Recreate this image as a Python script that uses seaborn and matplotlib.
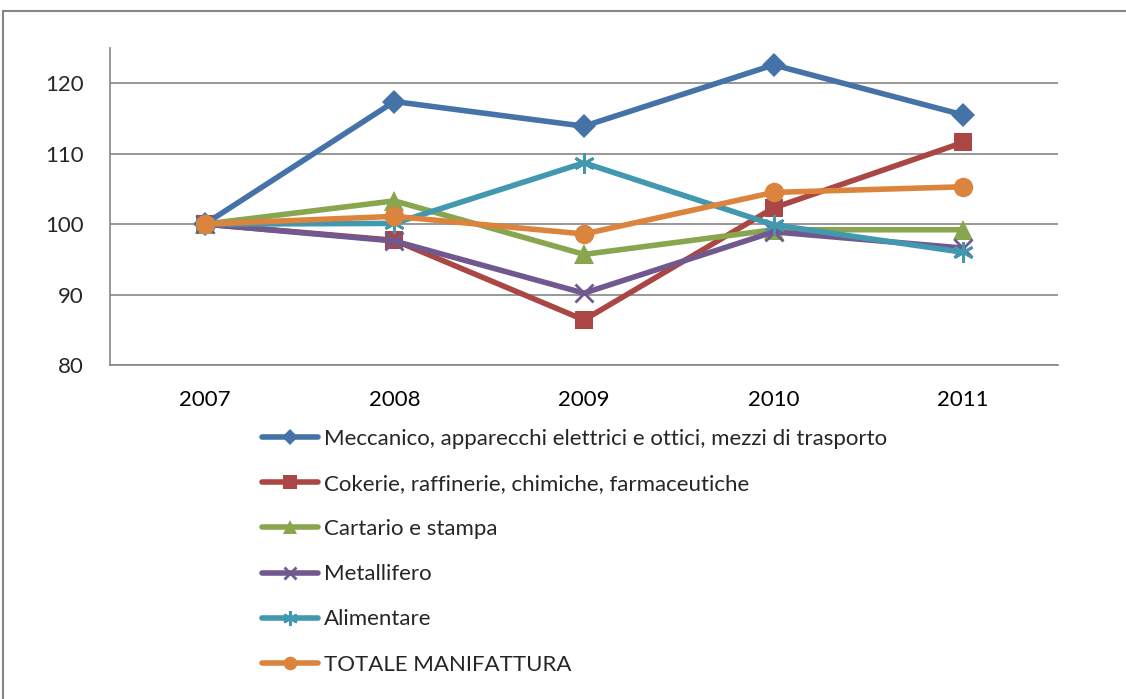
import matplotlib
matplotlib.use("Agg")
import matplotlib.pyplot as plt
import seaborn as sns
import pandas as pd
from matplotlib.patches import Rectangle

years = ["2007", "2008", "2009", "2010", "2011"]
meccanico = [100, 117.4, 113.9, 122.6, 115.5]
cokerie = [100, 97.7, 86.4, 102.3, 111.6]
cartario = [100, 103.3, 95.7, 99.2, 99.2]
metallifero = [100, 97.6, 90.2, 98.9, 96.6]
alimentare = [100, 100.1, 108.7, 99.9, 96.0]
totale = [100, 101.1, 98.6, 104.5, 105.3]

series_names = [
    "Meccanico, apparecchi elettrici e ottici, mezzi di trasporto",
    "Cokerie, raffinerie, chimiche, farmaceutiche",
    "Cartario e stampa",
    "Metallifero",
    "Alimentare",
    "TOTALE MANIFATTURA",
]
series_values = [meccanico, cokerie, cartario, metallifero, alimentare, totale]
colors = ["#4572A7", "#AA4643", "#89A54E", "#71588F", "#4198AF", "#DB843D"]
markers = ["D", "s", "^", "x", (6, 2, 0), "o"]
msizes = [12, 13.5, 14, 13, 15, 14]

sns.set_theme(style="white")
plt.rcParams["font.family"] = ["Lato", "DejaVu Sans"]

fig = plt.figure(figsize=(11.26, 6.99), dpi=100)
W, H = 1126, 699
ax = fig.add_axes([110 / W, 1 - 365 / H, (1058 - 110) / W, (365 - 48) / H])

rows = []
for name, vals in zip(series_names, series_values):
    for i, v in enumerate(vals):
        rows.append({"serie": name, "x": i, "val": v})
df = pd.DataFrame(rows)

for name, col, mk, ms in zip(series_names, colors, markers, msizes):
    sub = df[df["serie"] == name]
    mew = 2.0 if mk in ("x", (6, 2, 0)) else 0
    sns.lineplot(data=sub, x="x", y="val", ax=ax, color=col, linewidth=4.0,
                 marker=mk, markersize=ms, markeredgecolor=col, markerfacecolor=col,
                 markeredgewidth=mew, label=name, legend=False)

ax.set_xlim(-0.5, 4.5)
ax.set_ylim(80, 125)
ax.set_yticks([80, 90, 100, 110, 120])
ax.set_yticklabels(["80", "90", "100", "110", "120"])
ax.set_xticks(range(5))
ax.set_xticklabels(years)
ax.set_xticks([-0.5 + i for i in range(6)], minor=True)
ax.tick_params(axis="x", which="major", length=0, pad=18, labelsize=16, colors="black")
ax.tick_params(axis="x", which="minor", length=7, width=1.2, color="#868686", direction="out")
ax.tick_params(axis="y", which="major", length=6, width=1.2, color="#868686", direction="out",
               pad=13, labelsize=16)
ax.set_xlabel("")
ax.set_ylabel("")
ax.grid(axis="y", color="#868686", linewidth=1.2)
ax.grid(axis="x", visible=False)
for s in ["top", "right"]:
    ax.spines[s].set_visible(False)
for s in ["left", "bottom"]:
    ax.spines[s].set_color("#868686")
    ax.spines[s].set_linewidth(1.2)
ax.set_axisbelow(True)

handles, labels = ax.get_legend_handles_labels()
leg = fig.legend(handles, labels, loc="upper left", bbox_to_anchor=(262 / W, 1 - 429 / H),
                 frameon=False, fontsize=16, handlelength=2.5, handletextpad=0.3,
                 labelspacing=1.13, borderaxespad=0, borderpad=0, markerscale=0.7)

fig.patches.append(Rectangle((3 / W, -0.05), 1.1, 1 - 11 / H + 0.05, transform=fig.transFigure,
                             fill=False, edgecolor="#868686", linewidth=1.5))

fig.savefig("out.png", dpi=100)
